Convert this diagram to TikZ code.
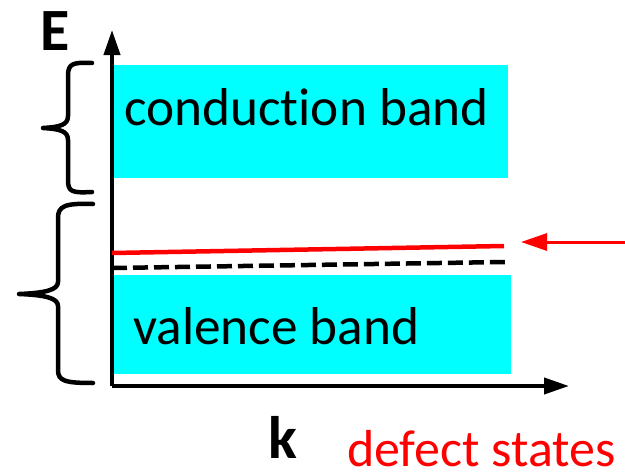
\documentclass[tikz,border=0pt]{standalone}
\usepackage{fontspec}
\setmainfont[Ligatures=NoCommon]{Carlito}
\usetikzlibrary{arrows.meta}
\definecolor{bandcyan}{HTML}{00FFFF}
\definecolor{defred}{HTML}{FF0000}
\tikzset{
  band/.style={fill=bandcyan, draw=none},
  axisline/.style={line width=4pt, -{Triangle[length=25pt,width=16pt]}},
  bracepath/.style={line width=4.5pt, line cap=round, line join=round},
  lbl/.style={inner sep=0pt, anchor=base west, font=\fontsize{53.3}{60}\selectfont},
  axlbl/.style={inner sep=0pt, anchor=base west, font=\bfseries\fontsize{60}{70}\selectfont},
}
\begin{document}
\begin{tikzpicture}[x=1pt,y=-1pt]
\useasboundingbox (0,0) rectangle (625,474);
% bands
\fill[band] (112,65) rectangle (508,178);
\fill[band] (112,275) rectangle (511,374);
% axes
\coordinate (o) at (112,386);
\coordinate (etip) at (112,30);
\coordinate (ktip) at (569,386);
\draw[axisline] (o) -- (etip);
\draw[axisline] (o) -- (ktip);
% defect level and dashed level
\coordinate (r1) at (112,253);
\coordinate (r2) at (504,246);
\draw[defred, line width=4.5pt] (r1) -- (r2);
\coordinate (d1) at (112,268);
\coordinate (d2) at (505,262);
\draw[line width=4.5pt, dash pattern=on 15pt off 6pt] (d1) -- (d2);
% red arrow
\coordinate (a1) at (625,242);
\coordinate (a2) at (521,242);
\draw[defred, line width=3pt, -{Triangle[length=26pt,width=17pt]}] (a1) -- (a2);
% braces
\draw[bracepath] (92,63) .. controls (72,62) and (68,64) .. (68,76) -- (68,116)
  .. controls (68,125) and (60,127) .. (43,128)
  .. controls (60,129) and (68,131) .. (68,140) -- (68,180)
  .. controls (68,192) and (72,193) .. (92,192);
\draw[bracepath] (93,204) .. controls (65,203) and (58,206) .. (58,218) -- (58,282)
  .. controls (58,290) and (45,293) .. (19,294)
  .. controls (45,295) and (58,298) .. (58,306) -- (58,370)
  .. controls (58,381) and (65,383) .. (93,383);
% labels
\node[lbl] (cb) at (124,125) {conduction band};
\node[lbl] (vb) at (133,344) {valence band};
\node[axlbl] (E) at (40,50) {E};
\node[axlbl] (k) at (268,458) {k};
\node[lbl, text=defred, font=\fontsize{52}{60}\selectfont] (ds) at (347,466) {defect states};
\end{tikzpicture}
\end{document}
